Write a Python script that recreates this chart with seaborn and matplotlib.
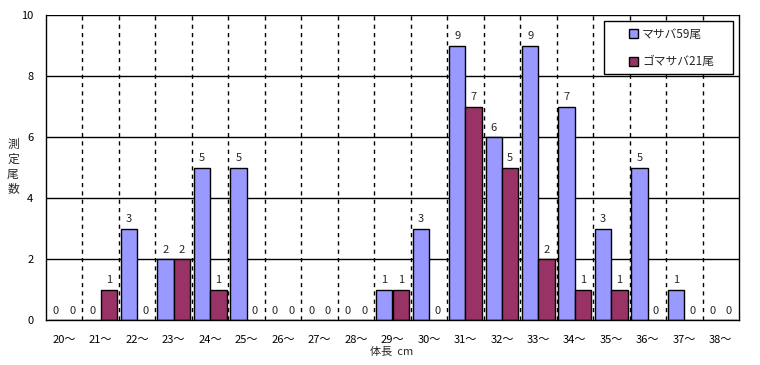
import matplotlib
matplotlib.use("Agg")
import matplotlib.pyplot as plt
import matplotlib.patches as mpatches
import seaborn as sns
import pandas as pd
import numpy as np

categories = [f"{i}～" for i in range(20, 39)]
masaba = [0, 0, 3, 2, 5, 5, 0, 0, 0, 1, 3, 9, 6, 9, 7, 3, 5, 1, 0]
gomasaba = [0, 1, 0, 2, 1, 0, 0, 0, 0, 1, 0, 7, 5, 2, 1, 1, 0, 0, 0]
series_names = ["マサバ59尾", "ゴマサバ21尾"]
colors = ["#9999FF", "#993366"]
ylabel_chars = ["測", "定", "尾", "数"]

sns.set_theme(style="white")
plt.rcParams['font.family'] = ['Noto Sans CJK JP', 'DejaVu Sans']

df = pd.DataFrame({
    "cat": categories * 2,
    "val": masaba + gomasaba,
    "series": [series_names[0]] * len(categories) + [series_names[1]] * len(categories),
})

W, H = 760, 365
fig = plt.figure(figsize=(7.6, 3.65), dpi=100)
ax = fig.add_axes([46/W, 1-320/H, (739-46)/W, (320-15)/H])

sns.barplot(data=df, x="cat", y="val", hue="series", palette=colors,
            saturation=1, width=0.9, dodge=True, edgecolor="black", linewidth=1,
            ax=ax, legend=True)

ax.set_ylim(0, 10)
ax.set_xlim(-0.5, len(categories) - 0.5)
ax.set_yticks(range(0, 11, 2))
ax.tick_params(axis='both', length=0, labelsize=8, colors='black')
ax.tick_params(axis='x', pad=11)
ax.tick_params(axis='y', pad=9)

for y in range(2, 11, 2):
    ax.axhline(y, color='black', linewidth=1, zorder=0)
for i in range(len(categories) - 1):
    ax.axvline(i + 0.5, color='black', linewidth=1, linestyle=(0, (3, 3)), zorder=0)

ax.spines['top'].set_visible(False)
for spine in ['left', 'bottom', 'right']:
    ax.spines[spine].set_color('black')
    ax.spines[spine].set_linewidth(1)

for cont in ax.containers:
    ax.bar_label(cont, fmt='%d', padding=3, fontsize=8)

ax.set_xlabel("体長  cm", fontsize=8, labelpad=0)
ax.xaxis.set_label_coords(0.499, -0.09)
ax.set_ylabel("")
for k, ch in enumerate(ylabel_chars):
    fig.text(13/W, 1-(144 + 15*k)/H, ch, fontsize=8.5, ha='center', va='center')

# legend frame box
ax.add_patch(mpatches.Rectangle((604/W, 1-74/H), (733-604)/W, (74-21)/H,
                                transform=fig.transFigure, facecolor='white',
                                edgecolor='black', linewidth=1, zorder=4,
                                clip_on=False))
leg = ax.legend(loc='upper left', bbox_to_anchor=(629/W, 1-28/H),
                bbox_transform=fig.transFigure,
                frameon=False, fontsize=8.5,
                handlelength=0.8, handleheight=0.8, labelspacing=1.2,
                borderpad=0, handletextpad=0.3, borderaxespad=0)
leg.set_zorder(5)
for h in leg.legend_handles:
    h.set_edgecolor('black')
    h.set_linewidth(1)

fig.savefig("out.png", dpi=100, facecolor='white')
